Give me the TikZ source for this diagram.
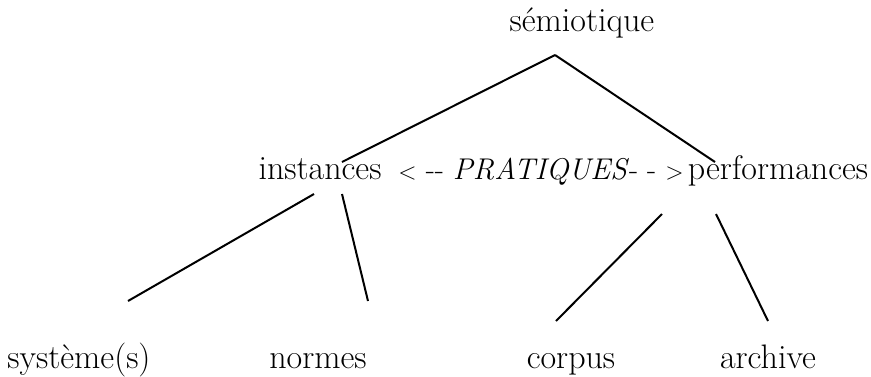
\documentclass[tikz,border=0pt]{standalone}
\begin{document}
\begin{tikzpicture}[x=1pt,y=-1pt,font=\fontsize{34}{40}\selectfont,
    every node/.style={anchor=base},
    branch/.style={line width=2pt}]
    \useasboundingbox (0,0) rectangle (871,376);

    \node (SEM) at (582,31)  {sémiotique};
    \node (INS) at (320,179) {instances};
    \node[font=\fontsize{30}{36}\selectfont] (PRA) at (541,179)
        {{\fontsize{24}{28}\selectfont<} -{}- \textit{PRATIQUES}- - {\fontsize{24}{28}\selectfont>}};
    \node (PER) at (778,179) {performances};
    \node (SYS) at (79,368)  {système(s)};
    \node (NOR) at (318,368) {normes};
    \node (COR) at (571,368) {corpus};
    \node (ARC) at (768,368) {archive};

    % ends of the branches
    \coordinate (SEMb) at (555,55);
    \coordinate (INSt) at (342,162);
    \coordinate (PERt) at (715,162);
    \coordinate (INSl) at (314,194);
    \coordinate (INSr) at (342,194);
    \coordinate (PERl) at (662,214);
    \coordinate (PERr) at (716,214);
    \coordinate (SYSt) at (128,301);
    \coordinate (NORt) at (368,301);
    \coordinate (CORt) at (556,321);
    \coordinate (ARCt) at (768,321);

    \draw [branch] (SEMb) -- (INSt);
    \draw [branch] (SEMb) -- (PERt);
    \draw [branch] (INSl) -- (SYSt);
    \draw [branch] (INSr) -- (NORt);
    \draw [branch] (PERl) -- (CORt);
    \draw [branch] (PERr) -- (ARCt);
\end{tikzpicture}
\end{document}
